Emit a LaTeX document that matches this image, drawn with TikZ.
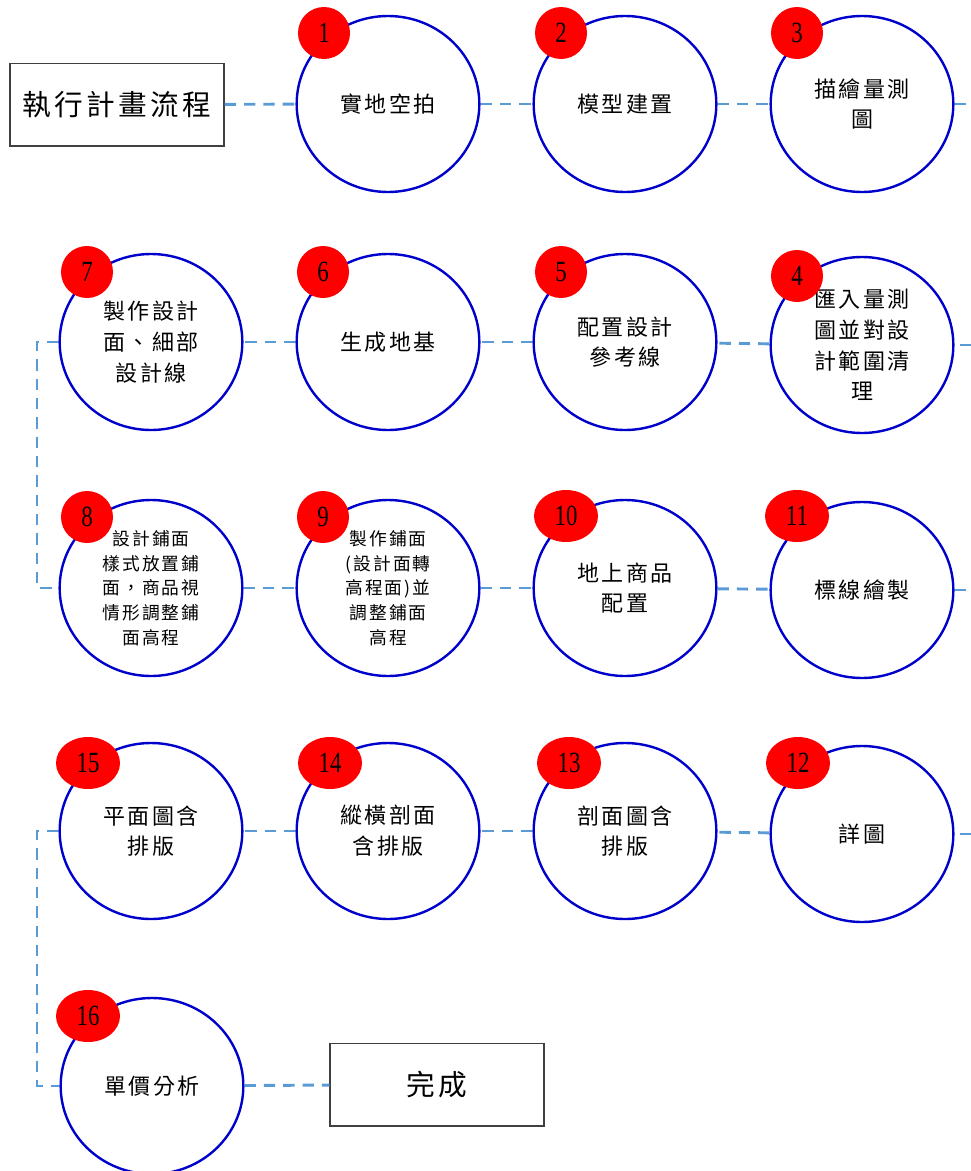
\documentclass[tikz,border=0pt]{standalone}
\usepackage{fontspec}
\usetikzlibrary{shapes.geometric}
\newfontfamily\cjk[LetterSpace=12]{Noto Sans CJK TC}
\newfontfamily\numfont[FakeStretch=0.78]{Liberation Serif}
\definecolor{ringblue}{RGB}{0,0,204}
\definecolor{linkblue}{RGB}{91,155,213}
\begin{document}
\begin{tikzpicture}[x=0.75pt, y=-0.75pt,
  ring/.style={ellipse, draw=ringblue, line width=1.8pt, fill=white, minimum width=137pt, minimum height=132pt, inner sep=0pt, align=center, font=\cjk\fontsize{16.5}{23}\selectfont},
  smallring/.style={ring, font=\cjk\fontsize{13.3}{18.5}\selectfont},
  badge/.style={circle, fill=red, minimum size=39pt, inner sep=0pt, font=\numfont\fontsize{22}{22}\selectfont},
  widebadge/.style={badge, ellipse, minimum width=48pt, minimum height=39pt},
  titlebox/.style={draw=black!75, line width=1pt, minimum width=160.5pt, minimum height=62pt, font=\cjk\fontsize{21.5}{21.5}\selectfont},
  link/.style={draw=linkblue, line width=2.2pt, dash pattern=on 8.5pt off 6pt}]
\useasboundingbox (0,0) rectangle (971,1171);
% row 1
\node[titlebox] (start) at (117,104.5){執行計畫流程};
\node[ring] (s1) at (388,104){實地空拍};
\node[ring] (s2) at (625,104){模型建置};
\node[ring] (s3) at (862,104){描繪量測\\圖};
\coordinate (r1) at (971,104);
% row 2
\coordinate (r2) at (971,345);
\node[ring] (s4) at (862,345){匯入量測\\圖並對設\\計範圍清\\理};
\node[ring] (s5) at (625,342){配置設計\\參考線};
\node[ring] (s6) at (388,342){生成地基};
\node[ring] (s7) at (151,342){製作設計\\面、細部\\設計線};
\coordinate (l7) at (37,342);
% row 3
\coordinate (l8) at (37,588);
\node[smallring] (s8) at (151,588){設計鋪面\\樣式放置鋪\\面，商品視\\情形調整鋪\\面高程};
\node[smallring] (s9) at (388,588){製作鋪面\\(設計面轉\\高程面)並\\調整鋪面\\高程};
\node[ring] (s10) at (625,588){地上商品\\配置};
\node[ring] (s11) at (862,590){標線繪製};
\coordinate (r3) at (971,590);
% row 4
\coordinate (r4) at (971,834);
\node[ring] (s12) at (862,834){詳圖};
\node[ring] (s13) at (625,831){剖面圖含\\排版};
\node[ring] (s14) at (388,831){縱橫剖面\\含排版};
\node[ring] (s15) at (151,831){平面圖含\\排版};
\coordinate (l15) at (37,831);
% row 5
\coordinate (l16) at (37,1086);
\node[ring] (s16) at (152,1086){單價分析};
\node[titlebox] (finish) at (437,1084.5){完成};
% badges
\node[badge] (n1) at (324,33){1};
\node[badge] (n2) at (561,33){2};
\node[badge] (n3) at (797,33){3};
\node[badge] (n4) at (797,276){4};
\node[badge] (n5) at (561,272){5};
\node[badge] (n6) at (323,272){6};
\node[badge] (n7) at (87,272){7};
\node[badge] (n8) at (87,517){8};
\node[badge] (n9) at (323,517){9};
\node[widebadge] (n10) at (566,516){10};
\node[widebadge] (n11) at (797,516){11};
\node[widebadge] (n12) at (798,763){12};
\node[widebadge] (n13) at (569,763){13};
\node[widebadge] (n14) at (330,763){14};
\node[widebadge] (n15) at (88,763){15};
\node[widebadge] (n16) at (88,1016){16};
% links
\draw[link] (start) -- (s1);
\draw[link] (s1) -- (s2);
\draw[link] (s2) -- (s3);
\draw[link] (s3) -- (r1);
\draw[link] (r2) -- (s4);
\draw[link] (s4) -- (s5);
\draw[link] (s5) -- (s6);
\draw[link] (s6) -- (s7);
\draw[link] (s7) -- (l7) -- (l8) -- (s8);
\draw[link] (s8) -- (s9);
\draw[link] (s9) -- (s10);
\draw[link] (s10) -- (s11);
\draw[link] (s11) -- (r3);
\draw[link] (r4) -- (s12);
\draw[link] (s12) -- (s13);
\draw[link] (s13) -- (s14);
\draw[link] (s14) -- (s15);
\draw[link] (s15) -- (l15) -- (l16) -- (s16);
\draw[link] (s16) -- (finish);
\end{tikzpicture}
\end{document}
